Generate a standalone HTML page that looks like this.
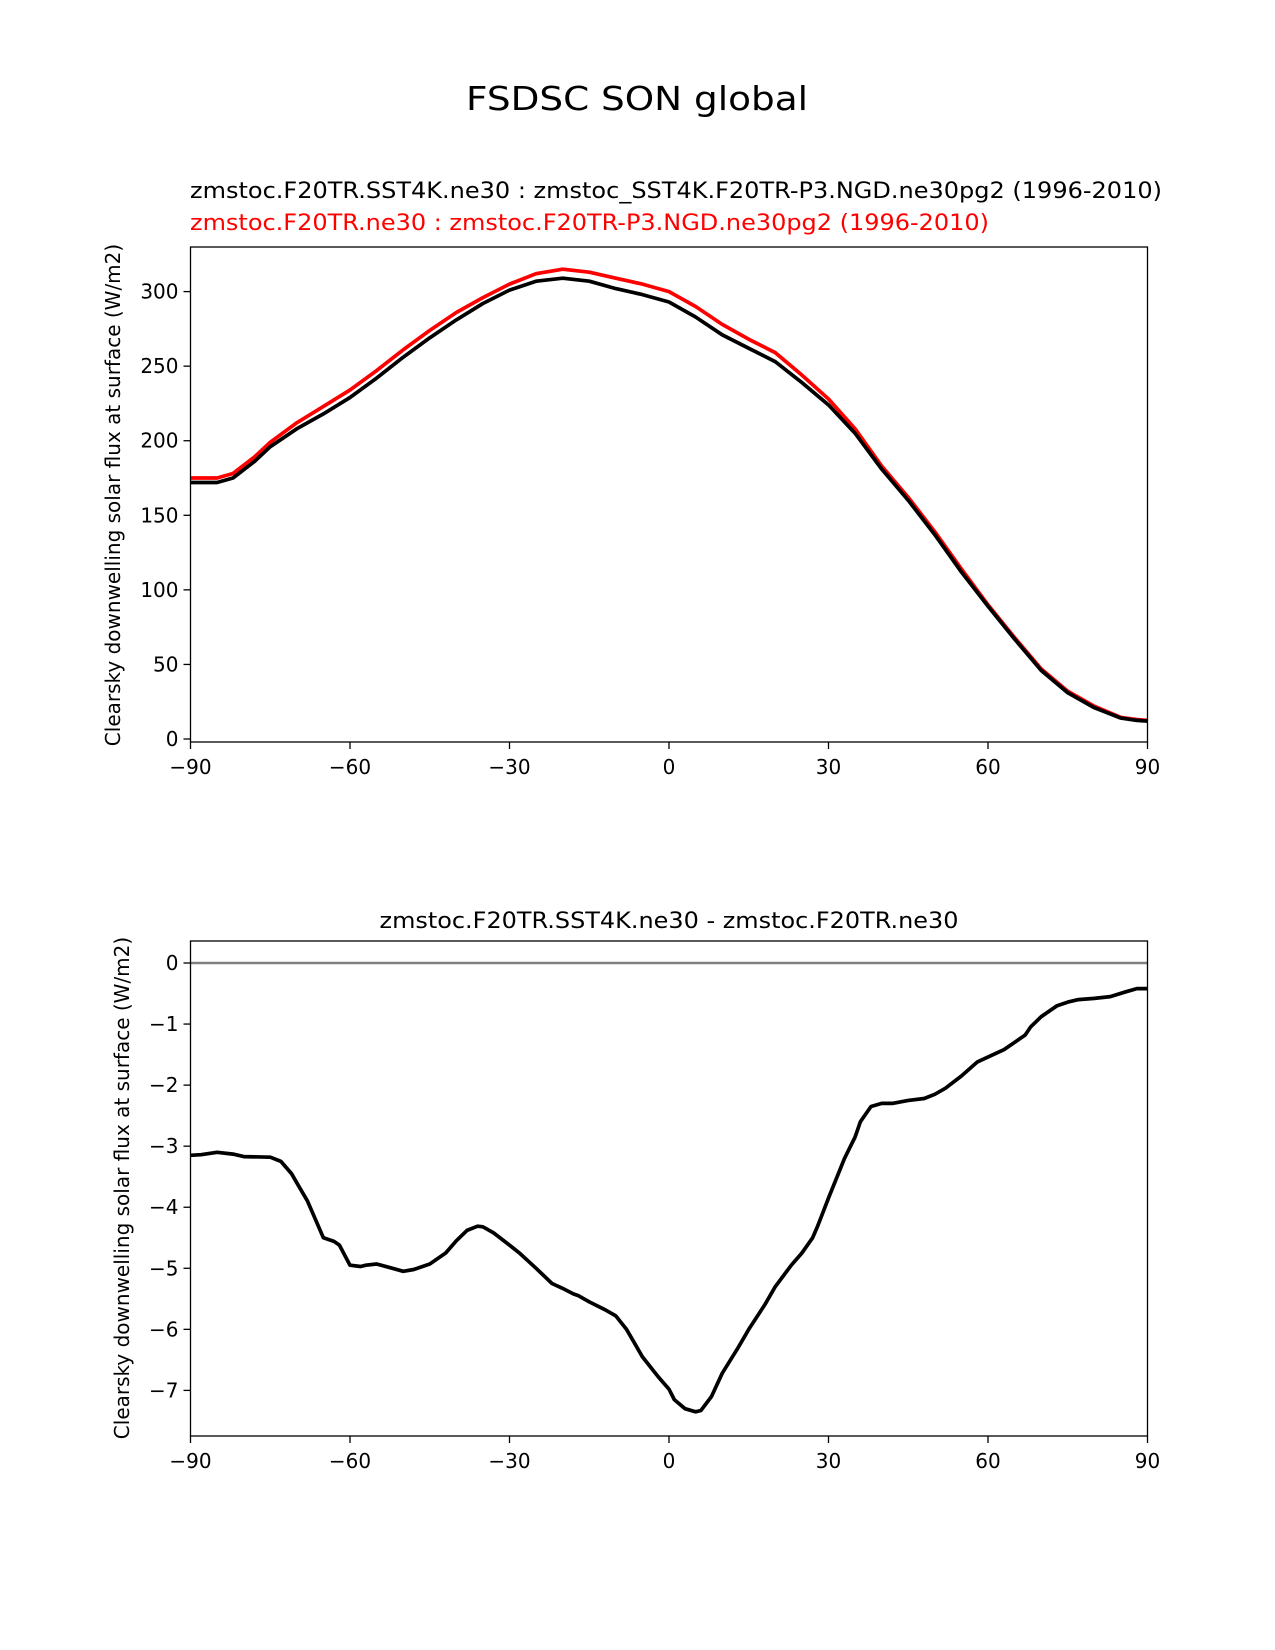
<!DOCTYPE html>
<html><head><meta charset="utf-8">
<style>
html,body{margin:0;padding:0;background:#fff;}
svg{display:block;font-family:"DejaVu Sans","Liberation Sans",sans-serif;}
</style></head>
<body>
<svg id="fig" width="1275" height="1650" viewBox="0 0 1275 1650" xmlns="http://www.w3.org/2000/svg">
<rect width="1275" height="1650" fill="#fff"/>
<text x="637" y="110" font-size="33" text-anchor="middle" textLength="342" lengthAdjust="spacingAndGlyphs">FSDSC SON global</text>
<text x="190" y="198" font-size="22" textLength="972" lengthAdjust="spacingAndGlyphs">zmstoc.F20TR.SST4K.ne30 : zmstoc_SST4K.F20TR-P3.NGD.ne30pg2 (1996-2010)</text>
<text x="190" y="230" font-size="22" fill="#ff0000" textLength="799" lengthAdjust="spacingAndGlyphs">zmstoc.F20TR.ne30 : zmstoc.F20TR-P3.NGD.ne30pg2 (1996-2010)</text>
<text x="669" y="928" font-size="22" text-anchor="middle" textLength="579" lengthAdjust="spacingAndGlyphs">zmstoc.F20TR.SST4K.ne30 - zmstoc.F20TR.ne30</text>
<text transform="translate(120,495) rotate(-90)" font-size="20" text-anchor="middle">Clearsky downwelling solar flux at surface (W/m2)</text>
<text transform="translate(129,1188) rotate(-90)" font-size="20" text-anchor="middle">Clearsky downwelling solar flux at surface (W/m2)</text>
<g id="top"></g>
<g id="bot"></g>
</svg>
<script>
const latTop = [-90,-85,-82,-78,-75,-70,-65,-60,-55,-50,-45,-40,-35,-30,-25,-20,-15,-10,-5,0,5,10,15,20,25,30,35,40,45,50,55,60,65,70,75,80,85,88,90];
const testVals = [172,172,175,186,196,208,218,229,242,256,269,281,292,301,307,309,307,302,298,293,283,271,262,253,239,224,205,181,160,137,112,89,67,46,31,21,14,12.5,12];
const ctrlVals = [175,175,178,189,199,212,223,234,247,261,274,286,296,305,312,315,313,309,305,300,290,278,268,259,244,228,208,183,162,139,114,90,68,47,32,22,14.5,13,12.5];
const latDiff = [-90,-88,-85,-82,-80,-75,-73,-71,-70,-68,-67,-65,-63,-62,-60,-58,-57,-55,-52,-50,-48,-45,-42,-40,-38,-36,-35,-33,-30,-28,-25,-22,-20,-18,-17,-15,-12,-10,-8,-5,-2,0,1,3,5,6,8,10,13,15,18,20,23,25,27,28,30,33,35,36,38,40,42,45,48,50,52,55,58,61,63,65,67,68,70,73,75,77,80,83,86,88,90];
const diffVals = [-3.15,-3.14,-3.1,-3.13,-3.17,-3.18,-3.25,-3.45,-3.6,-3.9,-4.1,-4.5,-4.56,-4.62,-4.95,-4.97,-4.95,-4.93,-5.0,-5.05,-5.02,-4.93,-4.75,-4.55,-4.38,-4.31,-4.32,-4.42,-4.62,-4.76,-5.0,-5.25,-5.33,-5.42,-5.45,-5.55,-5.68,-5.78,-6.0,-6.45,-6.78,-6.98,-7.15,-7.3,-7.35,-7.33,-7.1,-6.72,-6.3,-6.0,-5.6,-5.3,-4.95,-4.75,-4.5,-4.3,-3.85,-3.2,-2.85,-2.6,-2.35,-2.3,-2.3,-2.25,-2.22,-2.15,-2.05,-1.85,-1.62,-1.5,-1.42,-1.3,-1.18,-1.05,-0.88,-0.7,-0.64,-0.6,-0.58,-0.55,-0.47,-0.42,-0.42];
const xTicks = [-90,-60,-30,0,30,60,90];
const xTickLabels = ["\u221290","\u221260","\u221230","0","30","60","90"];
const topYTicks = [0,50,100,150,200,250,300];
const botYTicks = [0,-1,-2,-3,-4,-5,-6,-7];
const botYTickLabels = ["0","\u22121","\u22122","\u22123","\u22124","\u22125","\u22126","\u22127"];

const NS="http://www.w3.org/2000/svg";
const X0=190.5,X1=1147.5;
const xs = v => X0 + (v+90)/180*(X1-X0);
const topY = v => 739 - v*(447.4/300);
const botY = v => 963 - v*(427.4/7);

function mk(parent,tag,attrs){const e=document.createElementNS(NS,tag);for(const k in attrs)e.setAttribute(k,attrs[k]);parent.appendChild(e);return e;}

function panel(g,top,bottom,yfn,yticks,ylabels,prefix){
  for(let i=0;i<xTicks.length;i++){
    const x=xs(xTicks[i]);
    const t=mk(g,'line',{x1:x,x2:x,y1:bottom,y2:bottom+7,stroke:'#000','stroke-width':1.3});
    
    
    const l=mk(g,'text',{x:x,y:bottom+32,'font-size':20,'text-anchor':'middle'});
    
    
    l.textContent=xTickLabels[i];
  }
  for(let i=0;i<yticks.length;i++){
    const y=yfn(yticks[i]);
    const t=mk(g,'line',{x1:X0-7,x2:X0,y1:y,y2:y,stroke:'#000','stroke-width':1.3});
    
    
    const l=mk(g,'text',{x:X0-12,y:y+7,'font-size':20,'text-anchor':'end'});
    
    
    l.textContent=ylabels[i];
  }
}
function line(g,lats,vals,yfn,color,w,name){
  const pts=lats.map((la,i)=>xs(la).toFixed(1)+','+yfn(vals[i]).toFixed(1)).join(' ');
  const p=mk(g,'polyline',{points:pts,fill:'none',stroke:color,'stroke-width':w,'stroke-linejoin':'round'});
  
  
}
function frame(g,top,bottom,name){
  const r=mk(g,'rect',{x:X0,y:top,width:X1-X0,height:bottom-top,fill:'none',stroke:'#000','stroke-width':1.3});
  
  
}
const gt=document.getElementById('top');
panel(gt,247,742,topY,topYTicks,topYTicks.map(String),'top');
line(gt,latTop,ctrlVals,topY,'#ff0000',3.7,'control-line');
line(gt,latTop,testVals,topY,'#000000',3.7,'test-line');
frame(gt,247,742,'top-axes-frame');

const gb=document.getElementById('bot');
panel(gb,941,1436,botY,botYTicks,botYTickLabels,'bottom');
const z=mk(gb,'line',{x1:X0,x2:X1,y1:botY(0),y2:botY(0),stroke:'#808080','stroke-width':2.6});


line(gb,latDiff,diffVals,botY,'#000000',3.7,'difference-line');
frame(gb,941,1436,'bottom-axes-frame');
</script>
</body></html>
